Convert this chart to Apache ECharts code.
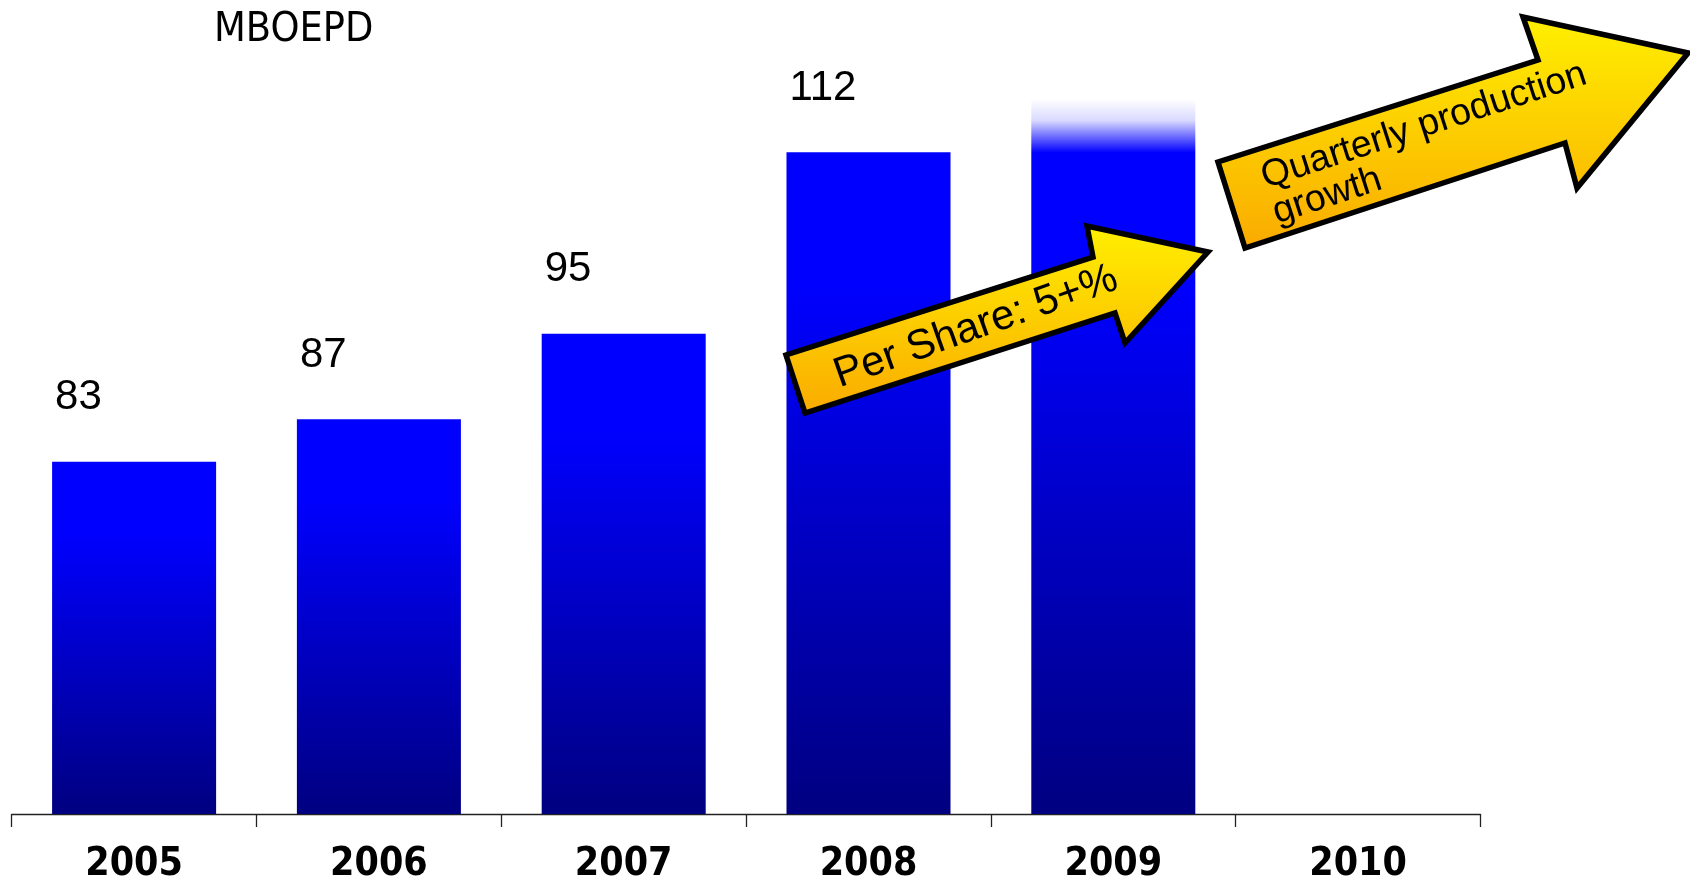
<!DOCTYPE html>
<html>
<head>
<meta charset="utf-8">
<script src="https://cdn.jsdelivr.net/npm/echarts@6/dist/echarts.min.js"></script>
<style>
  html, body { margin: 0; padding: 0; background: #ffffff; }
  #chart { width: 1690px; height: 884px; }
</style>
</head>
<body>
<div id="chart"></div>
<script>
// ---- data ----
const years = ['2005', '2006', '2007', '2008', '2009', '2010'];
const production = [83, 87, 95, 112, 117, null];      // MBOEPD; 2009 bar fades out at its top
const labelledYears = ['2005', '2006', '2007', '2008'];
const projectedYear = '2009';
const unitTitle = 'MBOEPD';
const arrowTexts = ['Per Share: 5+%', 'Quarterly production\ngrowth'];

// ---- styles ----
const solidGrad = new echarts.graphic.LinearGradient(0, 0, 0, 1, [
  { offset: 0, color: '#0000FF' },
  { offset: 0.2, color: '#0000FF' },
  { offset: 1, color: '#000080' }
]);
const fadeGrad = new echarts.graphic.LinearGradient(0, 0, 0, 1, [
  { offset: 0, color: 'rgba(0,0,255,0)' },
  { offset: 0.03, color: 'rgba(0,0,255,0.15)' },
  { offset: 0.075, color: 'rgba(0,0,255,1)' },
  { offset: 0.25, color: '#0000FF' },
  { offset: 1, color: '#000080' }
]);
const arrowFill = () => new echarts.graphic.LinearGradient(0, 0, 0, 1, [
  { offset: 0, color: '#FFF000' },
  { offset: 1, color: '#FAAA00' }
]);

const barData = production.map((v, i) => ({
  value: v,
  label: { show: labelledYears.includes(years[i]) },
  itemStyle: { color: years[i] === projectedYear ? fadeGrad : solidGrad }
}));

const chart = echarts.init(document.getElementById('chart'), null, { renderer: 'canvas' });

chart.setOption({
  animation: false,
  backgroundColor: '#ffffff',
  title: {
    text: unitTitle,
    left: 209,
    top: 5,
    textStyle: {
      fontFamily: '"Liberation Sans Narrow", "DejaVu Sans Condensed", sans-serif',
      fontWeight: 'normal',
      fontSize: 41,
      color: '#000000'
    }
  },
  grid: { left: 11.7, right: 209.5, top: 67, bottom: 67, containLabel: false },
  xAxis: {
    type: 'category',
    data: years,
    boundaryGap: true,
    axisLine: { show: true, lineStyle: { color: '#222222', width: 1.3 } },
    axisTick: { show: true, length: 13, alignWithLabel: false, lineStyle: { color: '#222222', width: 1.3 } },
    axisLabel: {
      margin: 31,
      fontFamily: '"DejaVu Sans Condensed", "DejaVu Sans", sans-serif',
      fontWeight: 'bold',
      fontSize: 39,
      color: '#000000',
      interval: 0
    },
    splitLine: { show: false }
  },
  yAxis: {
    type: 'value',
    min: 50,
    max: 120,
    show: false,
    splitLine: { show: false }
  },
  series: [{
    type: 'bar',
    data: barData,
    barWidth: '67%',
    label: {
      position: 'top',
      align: 'left',
      distance: 5,
      offset: [-79, -38],
      fontFamily: '"Liberation Sans", Arial, sans-serif',
      fontSize: 42,
      color: '#000000'
    }
  }],
  graphic: [
    {
      type: 'polygon',
      z: 100,
      shape: { points: [[805, 413], [786, 355], [1093, 257], [1087, 226], [1208, 252], [1125, 343], [1115, 313]] },
      style: { fill: arrowFill(), stroke: '#000000', lineWidth: 5.5, lineJoin: 'miter' }
    },
    {
      type: 'text',
      z: 101,
      x: 976, y: 327,
      rotation: 19.5 * Math.PI / 180,
      style: {
        text: arrowTexts[0],
        fontFamily: '"Liberation Sans", Arial, sans-serif',
        fontSize: 42,
        fill: '#000000',
        align: 'center',
        verticalAlign: 'middle'
      }
    },
    {
      type: 'polygon',
      z: 100,
      shape: { points: [[1245, 248], [1218, 162], [1538, 60], [1523, 17], [1688, 53], [1577, 188], [1565, 143]] },
      style: { fill: arrowFill(), stroke: '#000000', lineWidth: 5.5, lineJoin: 'miter' }
    },
    {
      type: 'text',
      z: 101,
      x: 1268, y: 196,
      rotation: 18 * Math.PI / 180,
      style: {
        text: arrowTexts[1],
        fontFamily: '"Liberation Sans", Arial, sans-serif',
        fontSize: 37.5,
        lineHeight: 37,
        fill: '#000000',
        align: 'left',
        verticalAlign: 'middle'
      }
    }
  ]
});
</script>
</body>
</html>
